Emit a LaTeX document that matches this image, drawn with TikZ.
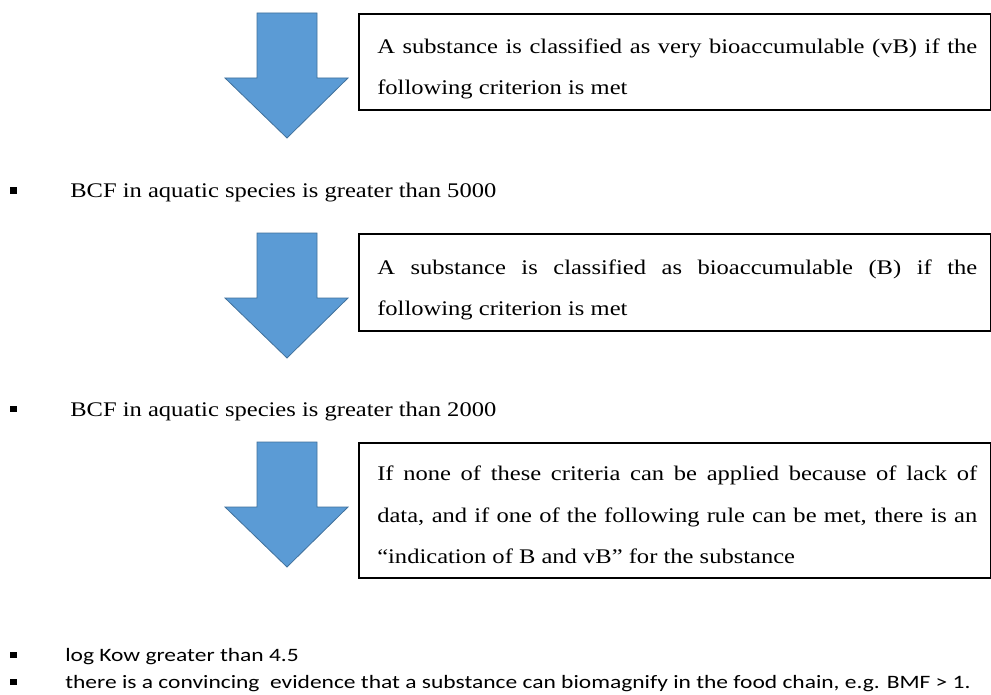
\documentclass[tikz,border=0pt]{standalone}
\usepackage{fontspec}
\setmainfont[FakeStretch=1.18]{Liberation Serif}
\newfontfamily\calib[FakeStretch=1.24]{Carlito}
\definecolor{arrowblue}{HTML}{5B9BD5}
\definecolor{arrowedge}{HTML}{41719C}
\tikzset{
  bigarrow/.style={fill=arrowblue, draw=arrowedge, line width=0.6pt, line join=miter},
  downarrow/.pic={\draw[bigarrow] (-30,0) -- (30,0) -- (30,65) -- (61,65) -- (0,125) -- (-62,65) -- (-30,65) -- cycle;},
  critbox/.style={draw=black, line width=1.3pt, anchor=north west, minimum width=474pt, inner sep=0pt},
  boxline/.style={anchor=base west, inner sep=0pt, font=\fontsize{15.6}{18}\selectfont},
  bulletmark/.style={fill=black, minimum size=5.2pt, inner sep=0pt},
  serifitem/.style={anchor=base west, inner sep=0pt, font=\fontsize{15.6}{18}\selectfont},
  sansitem/.style={anchor=base west, inner sep=0pt, font=\calib\fontsize{14.2}{17}\selectfont}
}
\newcommand\jline[1]{\makebox[450pt][s]{#1}}
\begin{document}
\begin{tikzpicture}[x=0.75pt,y=-0.75pt]
\useasboundingbox (0,0) rectangle (991,695);
\fill[white] (0,0) rectangle (991,695);

% arrows
\pic at (287,13) {downarrow};
\pic at (287,233) {downarrow};
\pic at (287,442) {downarrow};

% box 1
\node[critbox, minimum height=72pt] (box1) at (358,13) {};
\node[boxline] (b1l1) at (377,54) {\jline{A substance is classified as very bioaccumulable (vB) if the}};
\node[boxline] (b1l2) at (377,95) {following criterion is met};

% item 1
\node[bulletmark] (m1) at (13.5,190.5) {};
\node[serifitem] (t1) at (70,198) {BCF in aquatic species is greater than 5000};

% box 2
\node[critbox, minimum height=72.75pt] (box2) at (358,233) {};
\node[boxline] (b2l1) at (377,274) {\jline{A substance is classified as bioaccumulable (B) if the}};
\node[boxline] (b2l2) at (377,315) {following criterion is met};

% item 2
\node[bulletmark] (m2) at (13.5,409) {};
\node[serifitem] (t2) at (70,416) {BCF in aquatic species is greater than 2000};

% box 3
\node[critbox, minimum height=101.25pt] (box3) at (358,442) {};
\node[boxline] (b3l1) at (377,480) {\jline{If none of these criteria can be applied because of lack of}};
\node[boxline] (b3l2) at (377,522) {\jline{data, and if one of the following rule can be met, there is an}};
\node[boxline] (b3l3) at (377,563) {“indication of B and vB” for the substance};

% bottom items
\node[bulletmark] (m3) at (13.5,655) {};
\node[sansitem] (t3) at (65,661) {log Kow greater than 4.5};
\node[bulletmark] (m4) at (13.5,682) {};
\node[sansitem] (t4) at (65,688) {there is a convincing\ \ evidence that a substance can biomagnify in the food chain, e.g. BMF > 1.};
\end{tikzpicture}
\end{document}
